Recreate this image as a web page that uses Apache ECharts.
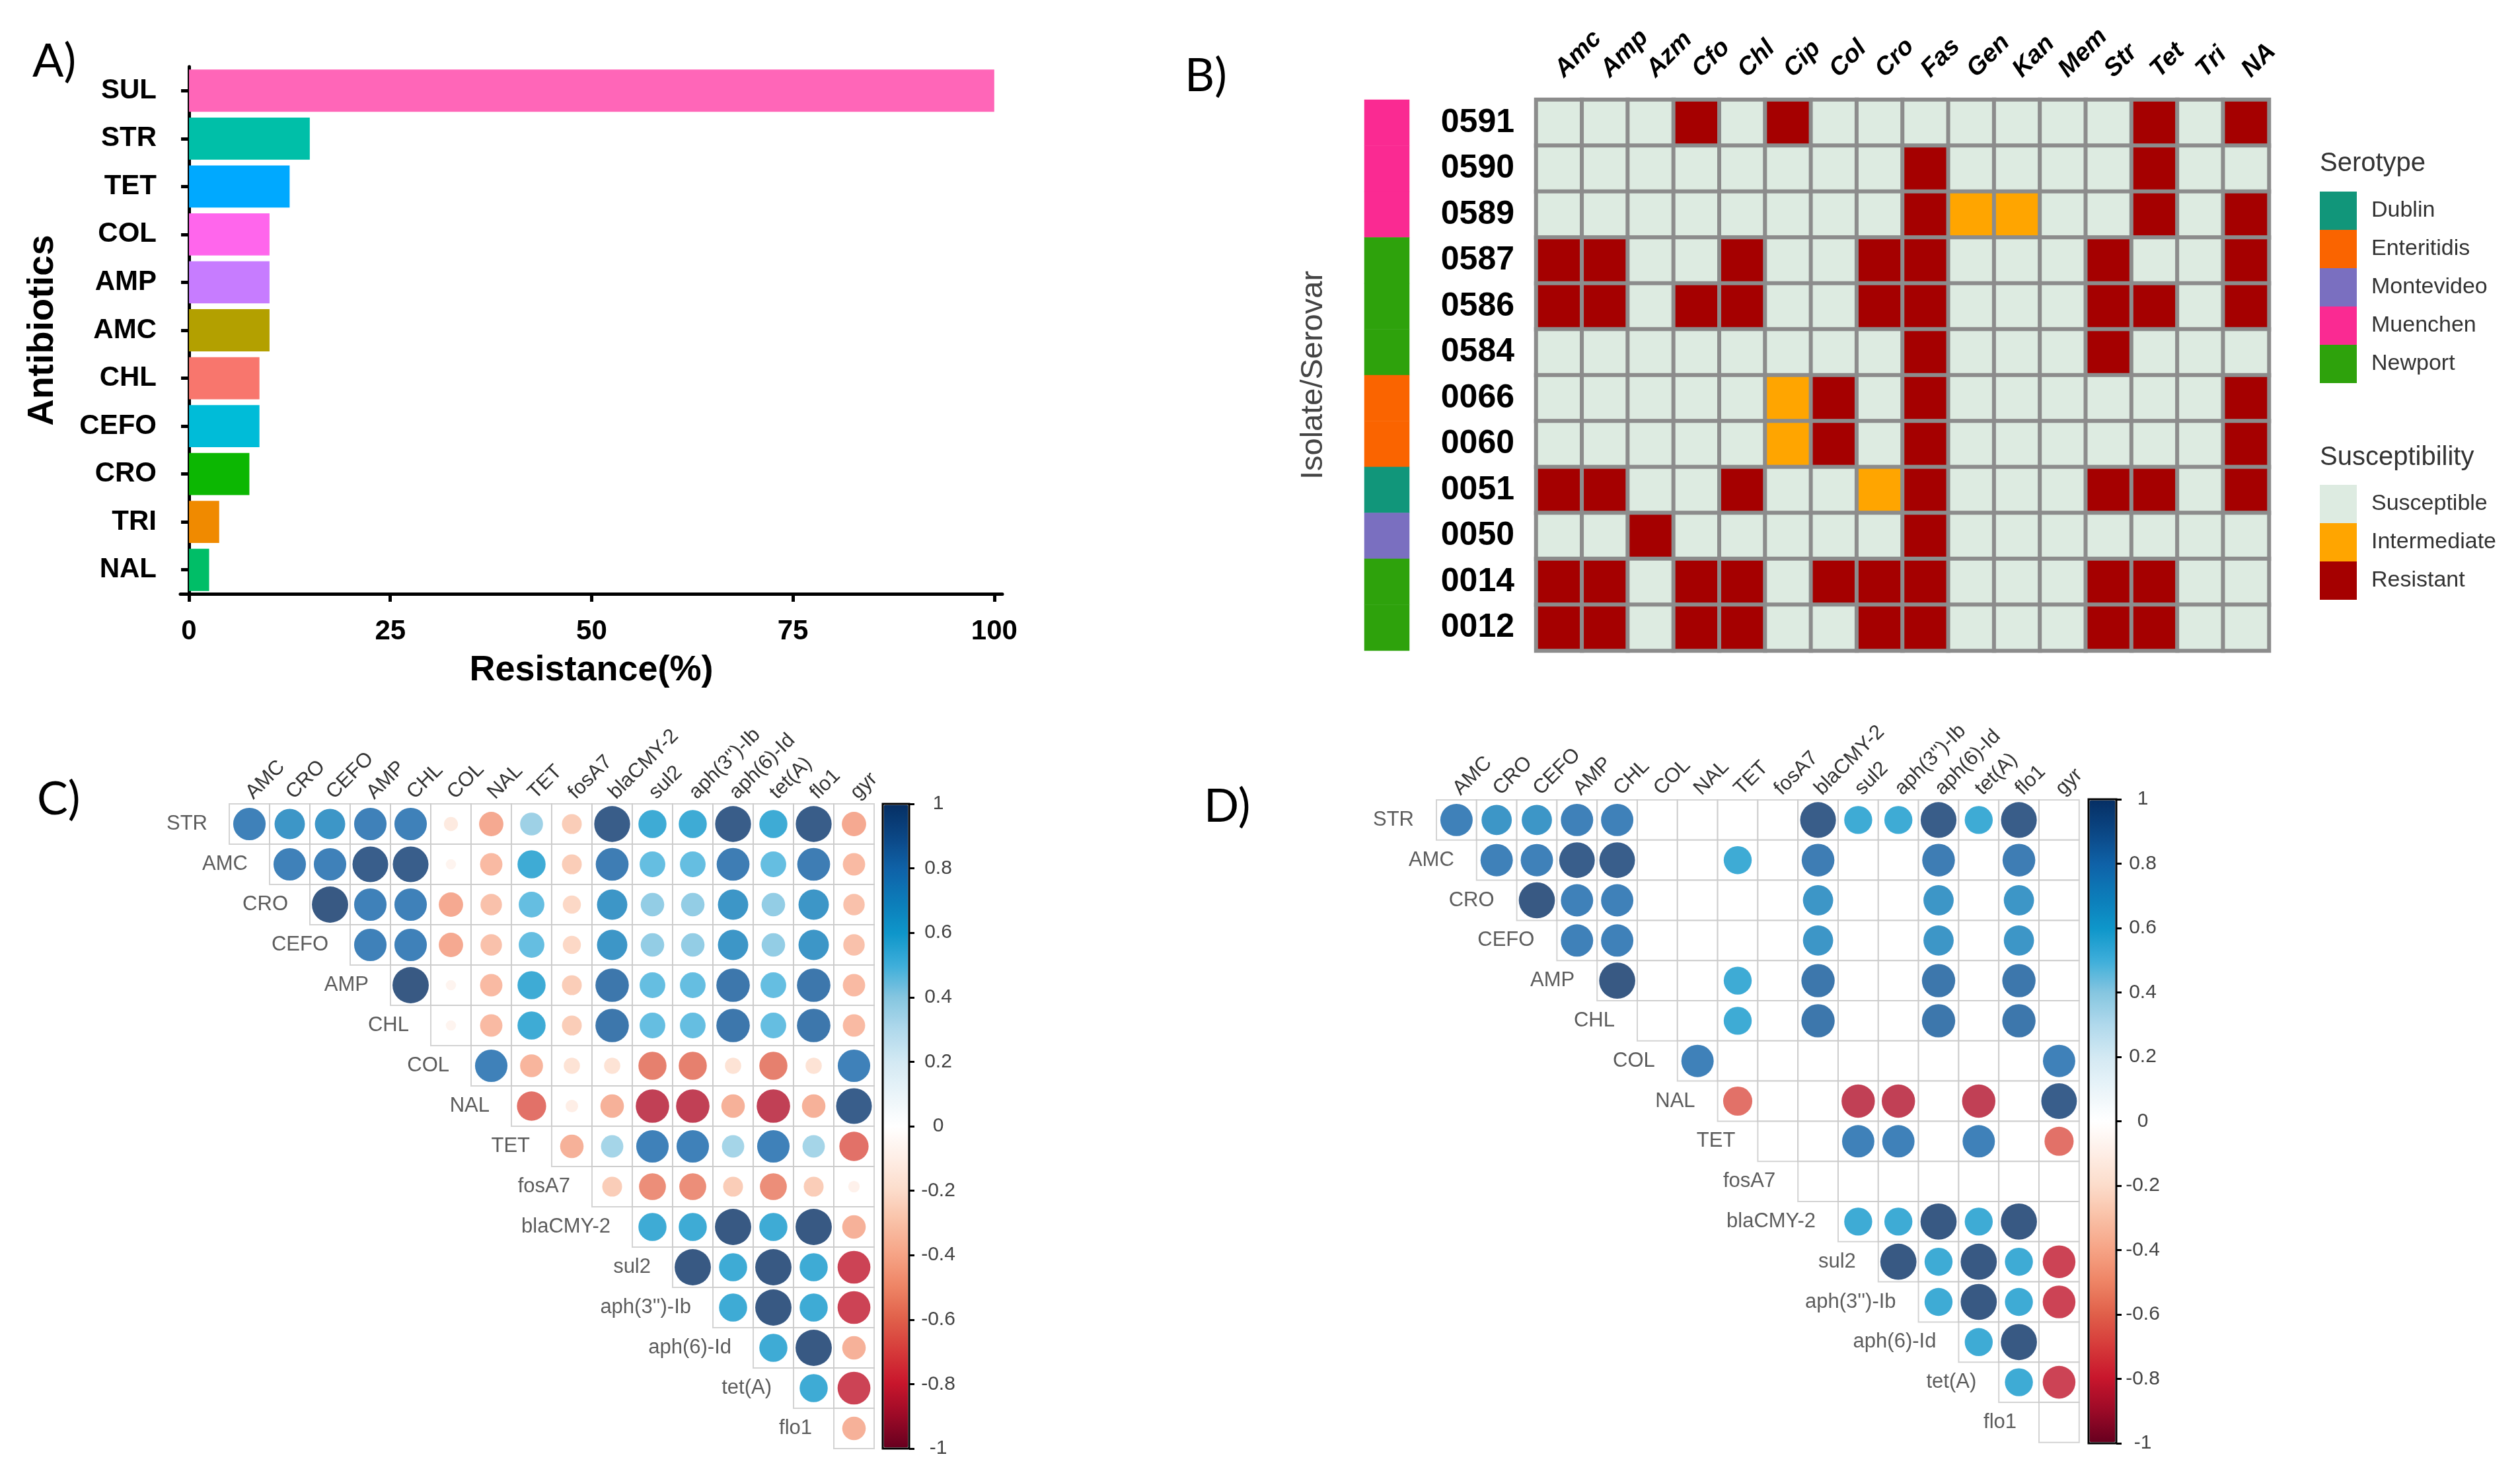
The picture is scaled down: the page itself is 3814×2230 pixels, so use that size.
<!DOCTYPE html>
<html><head><meta charset="utf-8">
<script src="https://cdn.jsdelivr.net/npm/echarts@6/dist/echarts.min.js"></script>
<style>html,body{margin:0;padding:0;background:#fff}#c{width:3814px;height:2230px}</style>
</head><body><div id="c"></div>
<script>
// ---------- Panel A data ----------
const abxA = ['SUL','STR','TET','COL','AMP','AMC','CHL','CEFO','CRO','TRI','NAL'];
const resistanceA = [100, 15, 12.5, 10, 10, 10, 8.75, 8.75, 7.5, 3.75, 2.5];
const barColorsA = ['#FF66B8','#00BFA8','#00A9FF','#FF66EC','#C77CFF','#B3A000','#F8766D','#00BCD8','#0CB702','#F08A00','#00BE67'];
const xTicksA = [0, 25, 50, 75, 100];

// ---------- Panel B data ----------
const isolatesB = ['0591','0590','0589','0587','0586','0584','0066','0060','0051','0050','0014','0012'];
const antibioticsB = ['Amc','Amp','Azm','Cfo','Chl','Cip','Col','Cro','Fas','Gen','Kan','Mem','Str','Tet','Tri','NA'];
// S = susceptible, I = intermediate, R = resistant (one char per antibiotic)
const profilesB = [
  'SSSRSRSSSSSSSRSR', // 0591
  'SSSSSSSSRSSSSRSS', // 0590
  'SSSSSSSSRIISSRSR', // 0589
  'RRSSRSSRRSSSRSSR', // 0587
  'RRSRRSSRRSSSRRSR', // 0586
  'SSSSSSSSRSSSRSSS', // 0584
  'SSSSSIRSRSSSSSSR', // 0066
  'SSSSSIRSRSSSSSSR', // 0060
  'RRSSRSSIRSSSRRSR', // 0051
  'SSRSSSSSRSSSSSSS', // 0050
  'RRSRRSRRRSSSRRSS', // 0014
  'RRSRRSSRRSSSRRSS'  // 0012
];
const serotypeB = ['Muenchen','Muenchen','Muenchen','Newport','Newport','Newport','Enteritidis','Enteritidis','Dublin','Montevideo','Newport','Newport'];
const serotypeNames = ['Dublin','Enteritidis','Montevideo','Muenchen','Newport'];
const serotypeColors = ['#11967A','#FA6400','#7A6FC0','#FA2A92','#2EA20C'];
const susceptCodes = ['S','I','R'];
const susceptNames = ['Susceptible','Intermediate','Resistant'];
const susceptColors = ['#DDEBE1','#FFA500','#A50000'];

// ---------- Panels C / D data ----------
const varsCD = ['STR','AMC','CRO','CEFO','AMP','CHL','COL','NAL','TET','fosA7','blaCMY-2','sul2',"aph(3'')-Ib",'aph(6)-Id','tet(A)','flo1','gyr'];
const rowsCD = varsCD.slice(0, 16);
const colsCD = varsCD.slice(1);
// row i lists correlations with variables i+1 .. 16
const corrC = [
  [0.80,0.70,0.70,0.80,0.80,-0.15,-0.45,0.40,-0.30,0.98,0.60,0.60,0.98,0.60,0.98,-0.45],
  [0.80,0.80,0.97,0.97,-0.08,-0.38,0.60,-0.30,0.82,0.50,0.50,0.82,0.50,0.82,-0.38],
  [1.00,0.80,0.80,-0.45,-0.35,0.50,-0.25,0.70,0.42,0.42,0.70,0.42,0.70,-0.35],
  [0.80,0.80,-0.45,-0.35,0.50,-0.25,0.70,0.42,0.42,0.70,0.42,0.70,-0.35],
  [1.00,-0.08,-0.38,0.60,-0.30,0.85,0.50,0.50,0.85,0.50,0.85,-0.38],
  [-0.08,-0.38,0.60,-0.30,0.85,0.50,0.50,0.85,0.50,0.85,-0.38],
  [0.80,-0.40,-0.20,-0.20,-0.60,-0.60,-0.20,-0.60,-0.20,0.80],
  [-0.65,-0.12,-0.42,-0.85,-0.85,-0.42,-0.85,-0.42,0.97],
  [-0.42,0.38,0.80,0.80,0.38,0.80,0.38,-0.65],
  [-0.30,-0.55,-0.55,-0.30,-0.55,-0.30,-0.10],
  [0.60,0.60,1.00,0.60,1.00,-0.42],
  [1.00,0.60,1.00,0.60,-0.82],
  [0.60,1.00,0.60,-0.82],
  [0.60,1.00,-0.42],
  [0.60,-0.82],
  [-0.42]
];
// significant correlations only (null = blank)
const corrD = [
  [0.80,0.70,0.70,0.80,0.80,null,null,null,null,0.98,0.60,0.60,0.98,0.60,0.98,null],
  [0.80,0.80,0.97,0.97,null,null,0.60,null,0.82,null,null,0.82,null,0.82,null],
  [1.00,0.80,0.80,null,null,null,null,0.70,null,null,0.70,null,0.70,null],
  [0.80,0.80,null,null,null,null,0.70,null,null,0.70,null,0.70,null],
  [1.00,null,null,0.60,null,0.85,null,null,0.85,null,0.85,null],
  [null,null,0.60,null,0.85,null,null,0.85,null,0.85,null],
  [0.80,null,null,null,null,null,null,null,null,0.80],
  [-0.65,null,null,-0.85,-0.85,null,-0.85,null,0.97],
  [null,null,0.80,0.80,null,0.80,null,-0.65],
  [null,null,null,null,null,null,null],
  [0.60,0.60,1.00,0.60,1.00,null],
  [1.00,0.60,1.00,0.60,-0.82],
  [0.60,1.00,0.60,-0.82],
  [0.60,1.00,null],
  [0.60,-0.82],
  [null]
];
const colorbarTicks = [-1, 1, 0.2];
const rdbu = ['#67001F','#9C0A27','#C8162C','#D63A3A','#E0604A','#EE8465','#F6A385','#F9C0A6','#FCDCCA','#FEEEE6','#FFFFFF',
              '#EAF4F9','#D3E9F3','#B0D9EC','#86C6E0','#3EAEDA','#0E96CA','#0C7CB9','#0F62A8','#0B4785','#062F64'];

// ---------- build ----------
const FONT = 'Liberation Sans';
const CELL_C = 61, CELL_D = 60.8;
const LABEL_ROT = -45;

const heatB = [];
profilesB.forEach((p, i) => { for (let j = 0; j < p.length; j++) heatB.push([j, i, susceptCodes.indexOf(p[j])]); });
const seroData = serotypeB.map((s, i) => [0, i, serotypeNames.indexOf(s)]);

function cells() { const d = []; for (let i = 0; i < 16; i++) for (let j = i; j < 16; j++) d.push([j, i]); return d; }
function circles(m) { const d = []; m.forEach((row, i) => row.forEach((v, k) => { if (v !== null) d.push([i + k, i, v]); })); return d; }
const diag = rowsCD.map((r, i) => [i, i]);

function corrAxes(gi) {
  return {
    x: { type:'category', gridIndex:gi, data:colsCD, position:'top', axisLine:{show:false}, axisTick:{show:false},
         splitLine:{show:false},
         axisLabel:{rotate:LABEL_ROT, interval:0, fontSize:31, color:'#333', fontFamily:FONT, margin:12} },
    y: { type:'category', gridIndex:gi, data:rowsCD, inverse:true, axisLine:{show:false}, axisTick:{show:false},
         axisLabel:{show:false}, splitLine:{show:false} }
  };
}
const axC = corrAxes(3), axD = corrAxes(4);

function cbAxis(gi, margin) {
  return {
    x: { type:'category', gridIndex:gi, data:[''], show:false },
    y: { type:'value', gridIndex:gi, min:colorbarTicks[0], max:colorbarTicks[1], interval:colorbarTicks[2], position:'right',
         axisLine:{show:false}, splitLine:{show:false},
         axisTick:{show:true, length:8, lineStyle:{color:'#000', width:3}},
         axisLabel:{fontSize:30, color:'#444', fontFamily:FONT, align:'center', margin:margin} }
  };
}
const cbC = cbAxis(5, 44), cbD = cbAxis(6, 40);

const tagStyle = { fontFamily:'Lato', fontSize:70, fontWeight:'normal', color:'#000' };
const legTitle = { fontFamily:FONT, fontSize:40, fontWeight:'normal', color:'#333' };

const option = {
  animation: false,
  backgroundColor: '#fff',
  textStyle: { fontFamily: FONT },
  title: [
    { text:'A)', left:49, top:58, padding:0, textStyle:tagStyle },
    { text:'B)', left:1793, top:80, padding:0, textStyle:tagStyle },
    { text:'C)', left:56, top:1175, padding:0, textStyle:tagStyle },
    { text:'D)', left:1822, top:1186, padding:0, textStyle:tagStyle },
    { text:'Serotype', left:3511, top:228, padding:0, textStyle:legTitle },
    { text:'Susceptibility', left:3511, top:673, padding:0, textStyle:legTitle }
  ],
  grid: [
    { left:273, top:101, width:1244, height:798 },
    { left:2325, top:151, width:1109, height:834 },
    { left:2065, top:151, width:68, height:834 },
    { left:347, top:1217, width:CELL_C*16, height:CELL_C*16 },
    { left:2174, top:1211, width:CELL_D*16, height:CELL_D*16 },
    { left:1336, top:1217, width:40, height:976, show:true, borderColor:'#000', borderWidth:3, backgroundColor:'rgba(0,0,0,0)', z:10 },
    { left:3161, top:1210, width:42, height:975, show:true, borderColor:'#000', borderWidth:3, backgroundColor:'rgba(0,0,0,0)', z:10 }
  ],
  xAxis: [
    { type:'value', gridIndex:0, min:-1.07, max:101, splitLine:{show:false},
      axisLine:{show:true, lineStyle:{color:'#000', width:5}},
      axisTick:{show:true, length:12, lineStyle:{color:'#000', width:5}, customValues:xTicksA},
      axisLabel:{customValues:xTicksA, fontSize:42, fontWeight:'bold', color:'#000', margin:36, fontFamily:FONT},
      name:'Resistance(%)', nameLocation:'middle', nameGap:89,
      nameTextStyle:{fontSize:54, fontWeight:'bold', color:'#000', fontFamily:FONT} },
    { type:'category', gridIndex:1, data:antibioticsB, position:'top', axisLine:{show:false}, axisTick:{show:false},
      axisLabel:{rotate:LABEL_ROT, interval:0, fontSize:38, fontWeight:'bold', fontStyle:'italic', color:'#000', margin:40, fontFamily:FONT} },
    { type:'category', gridIndex:2, data:[''], show:false },
    axC.x, axD.x, cbC.x, cbD.x
  ],
  yAxis: [
    { type:'category', gridIndex:0, data:abxA, inverse:true,
      axisLine:{show:true, lineStyle:{color:'#000', width:5}},
      axisTick:{show:true, length:12, alignWithLabel:true, lineStyle:{color:'#000', width:5}},
      axisLabel:{fontSize:42, fontWeight:'bold', color:'#000', margin:36, fontFamily:FONT},
      name:'Antibiotics', nameLocation:'middle', nameGap:180,
      nameTextStyle:{fontSize:56, fontWeight:'bold', color:'#000', fontFamily:FONT} },
    { type:'category', gridIndex:1, data:isolatesB, inverse:true, axisLine:{show:false}, axisTick:{show:false},
      axisLabel:{fontSize:50, fontWeight:'bold', color:'#000', margin:33, interval:0, fontFamily:FONT} },
    { type:'category', gridIndex:2, data:isolatesB, inverse:true, axisLine:{show:false}, axisTick:{show:false},
      axisLabel:{show:false}, name:'Isolate/Serovar', nameLocation:'middle', nameGap:53,
      nameTextStyle:{fontSize:47, color:'#444', fontFamily:FONT} },
    axC.y, axD.y, cbC.y, cbD.y
  ],
  visualMap: [
    { type:'piecewise', seriesIndex:1, dimension:2, left:3511, top:734, padding:0, orient:'vertical', inverse:true, align:'left',
      itemWidth:56, itemHeight:58, itemGap:0, itemSymbol:'rect', textGap:22, selectedMode:false,
      textStyle:{fontSize:34, color:'#333', fontFamily:FONT},
      pieces: susceptNames.map((n, k) => ({ value:k, label:n, color:susceptColors[k] })) },
    { type:'piecewise', seriesIndex:2, dimension:2, left:3511, top:290, padding:0, orient:'vertical', inverse:true, align:'left',
      itemWidth:56, itemHeight:58, itemGap:0, itemSymbol:'rect', textGap:22, selectedMode:false,
      textStyle:{fontSize:34, color:'#333', fontFamily:FONT},
      pieces: serotypeNames.map((n, k) => ({ value:k, label:n, color:serotypeColors[k] })) },
    { type:'continuous', seriesIndex:5, dimension:2, min:-1, max:1, left:1337.5, top:1218.5, padding:0,
      itemWidth:37, itemHeight:973, calculable:false, hoverLink:false, inRange:{color:rdbu} },
    { type:'continuous', seriesIndex:8, dimension:2, min:-1, max:1, left:3162.5, top:1211.5, padding:0,
      itemWidth:39, itemHeight:972, calculable:false, hoverLink:false, inRange:{color:rdbu} }
  ],
  series: [
    { type:'bar', xAxisIndex:0, yAxisIndex:0, barCategoryGap:'12%',
      data: resistanceA.map((v, i) => ({ value:v, itemStyle:{ color:barColorsA[i] } })) },
    { type:'heatmap', xAxisIndex:1, yAxisIndex:1, data:heatB,
      itemStyle:{ borderColor:'#8c8c8c', borderWidth:6 }, emphasis:{disabled:true} },
    { type:'heatmap', xAxisIndex:2, yAxisIndex:2, data:seroData, itemStyle:{ borderWidth:0 }, emphasis:{disabled:true} },
    { type:'scatter', xAxisIndex:3, yAxisIndex:3, data:cells(), symbol:'rect', symbolSize:[CELL_C, CELL_C], silent:true,
      itemStyle:{ color:'#fff', borderColor:'#c8c8c8', borderWidth:2 } },
    { type:'scatter', xAxisIndex:3, yAxisIndex:3, data:diag, symbolSize:0, silent:true,
      label:{ show:true, position:'left', distance:CELL_C/2 + 33, formatter:p => rowsCD[p.value[1]],
              fontSize:31, color:'#333', fontFamily:FONT } },
    { type:'scatter', xAxisIndex:3, yAxisIndex:3, data:circles(corrC), silent:true,
      symbolSize: v => 0.9 * Math.sqrt(Math.abs(v[2])) * CELL_C },
    { type:'scatter', xAxisIndex:4, yAxisIndex:4, data:cells(), symbol:'rect', symbolSize:[CELL_D, CELL_D], silent:true,
      itemStyle:{ color:'#fff', borderColor:'#c8c8c8', borderWidth:2 } },
    { type:'scatter', xAxisIndex:4, yAxisIndex:4, data:diag, symbolSize:0, silent:true,
      label:{ show:true, position:'left', distance:CELL_D/2 + 34, formatter:p => rowsCD[p.value[1]],
              fontSize:31, color:'#333', fontFamily:FONT } },
    { type:'scatter', xAxisIndex:4, yAxisIndex:4, data:circles(corrD), silent:true,
      symbolSize: v => 0.9 * Math.sqrt(Math.abs(v[2])) * CELL_D }
  ]
};
const chart = echarts.init(document.getElementById('c'), null, { renderer:'canvas' });
chart.setOption(option);
</script>
</body></html>
